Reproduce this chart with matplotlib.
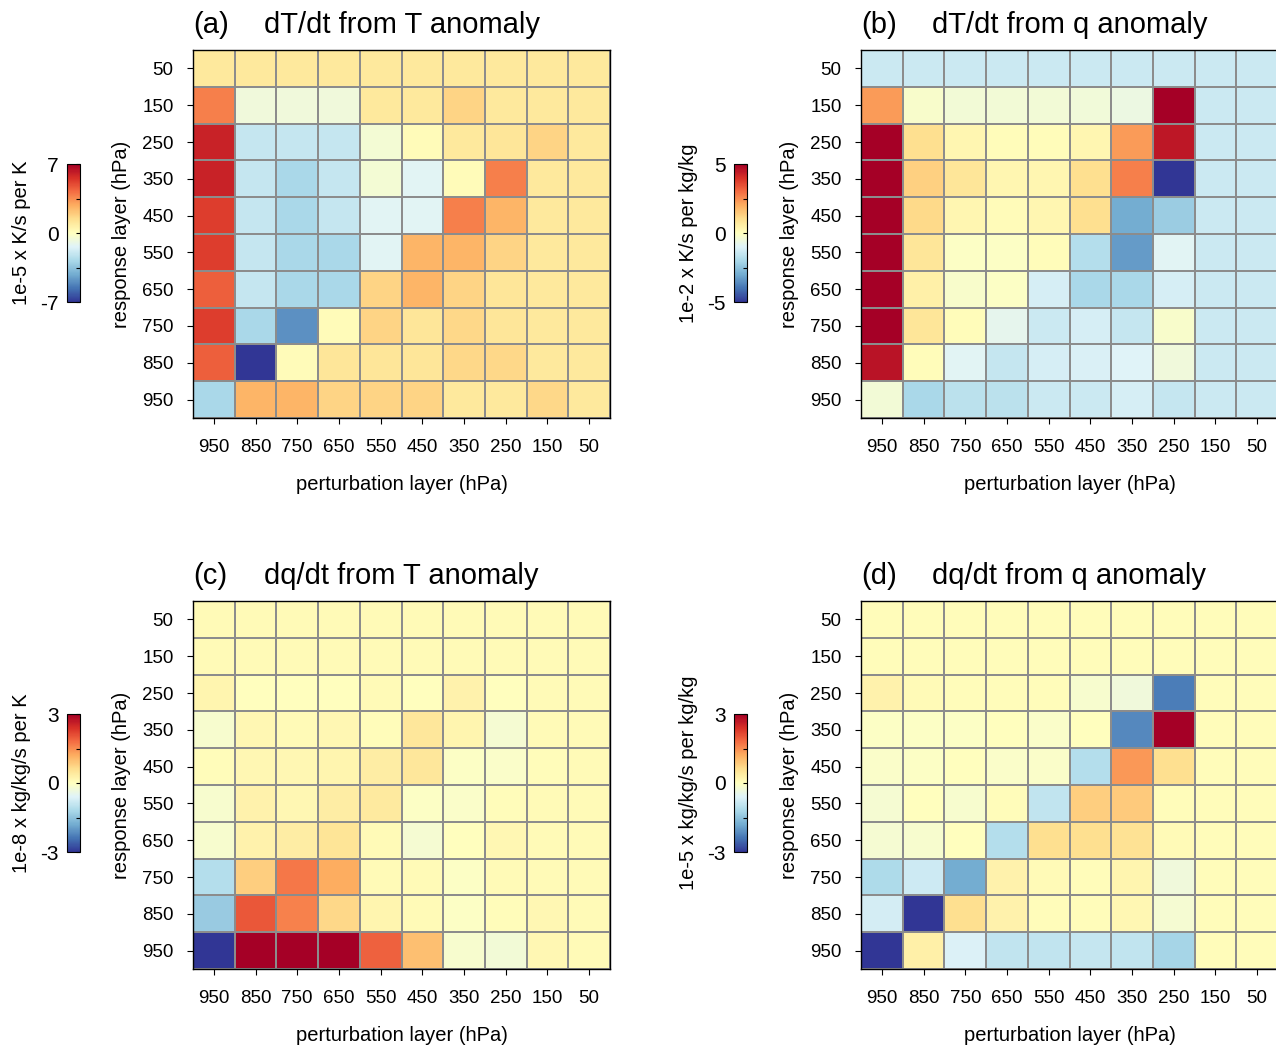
import matplotlib.pyplot as plt
import numpy as np

plt.rcParams['font.family'] = ['Liberation Sans', 'DejaVu Sans']

levels = [50, 150, 250, 350, 450, 550, 650, 750, 850, 950]
xlabels = ["950", "850", "750", "650", "550", "450", "350", "250", "150", "50"]

# rows: response layer 50 (top) .. 950 (bottom); cols: perturbation 950 .. 50
dT_from_T = [
    [1.0, 1.0, 1.0, 1.0, 1.0, 1.0, 1.0, 1.0, 1.0, 1.0],
    [3.8, -0.7, -0.7, -0.7, 1.0, 1.0, 1.7, 1.0, 1.0, 1.0],
    [6.0, -2.1, -2.1, -2.1, -0.5, 0.2, 1.0, 1.1, 1.7, 1.0],
    [6.0, -2.1, -2.8, -2.1, -0.5, -1.3, 0.2, 3.8, 1.0, 1.0],
    [5.3, -2.1, -2.8, -2.1, -1.3, -1.3, 3.8, 2.6, 1.0, 1.0],
    [5.3, -2.1, -2.8, -2.8, -1.3, 2.6, 2.6, 1.7, 1.0, 1.0],
    [4.5, -2.1, -2.8, -2.8, 1.7, 2.6, 1.7, 1.1, 1.0, 1.0],
    [5.3, -2.8, -4.9, 0.2, 1.7, 1.1, 1.6, 1.1, 1.0, 1.0],
    [4.5, -7.0, 0.2, 1.1, 1.1, 1.1, 1.6, 1.6, 1.0, 1.0],
    [-2.8, 2.6, 2.6, 1.7, 1.7, 1.7, 1.0, 1.0, 1.6, 1.0],
]

dT_from_q = [
    [-1.4, -1.4, -1.4, -1.4, -1.4, -1.4, -1.4, -1.4, -1.4, -1.4],
    [2.3, -0.2, -0.4, -0.4, -0.4, -0.45, -0.6, 5.0, -1.4, -1.4],
    [5.0, 1.0, 0.3, 0.1, 0.1, 0.3, 2.3, 4.5, -1.4, -1.4],
    [5.0, 1.3, 0.8, 0.3, 0.3, 1.0, 2.7, -5.0, -1.4, -1.4],
    [5.0, 1.1, 0.3, 0.15, 0.3, 1.0, -3.0, -2.3, -1.4, -1.4],
    [5.0, 0.8, -0.1, -0.1, 0.1, -1.8, -3.3, -0.9, -1.4, -1.4],
    [5.0, 0.5, -0.2, -0.1, -1.2, -2.0, -2.0, -1.2, -1.4, -1.4],
    [5.0, 0.8, 0.1, -0.8, -1.4, -1.2, -1.5, -0.2, -1.4, -1.4],
    [4.6, 0.1, -0.9, -1.5, -1.2, -1.1, -1.0, -0.5, -1.4, -1.4],
    [-0.4, -2.0, -1.7, -1.7, -1.4, -1.4, -1.2, -1.5, -1.4, -1.4],
]

dq_from_T = [
    [0.1, 0.1, 0.1, 0.1, 0.1, 0.1, 0.1, 0.1, 0.1, 0.1],
    [0.1, 0.1, 0.1, 0.1, 0.1, 0.1, 0.1, 0.1, 0.1, 0.1],
    [0.2, 0.0, 0.0, 0.0, 0.1, 0.0, 0.25, 0.0, 0.1, 0.1],
    [-0.15, 0.15, 0.1, 0.15, 0.05, 0.45, 0.2, -0.2, 0.1, 0.1],
    [0.05, 0.15, 0.15, 0.2, 0.35, 0.45, -0.05, -0.1, 0.05, 0.1],
    [-0.15, 0.25, 0.15, 0.35, 0.4, -0.05, -0.1, 0.05, 0.1, 0.1],
    [-0.15, 0.25, 0.35, 0.5, 0.1, -0.2, 0.0, 0.15, 0.1, 0.1],
    [-1.1, 0.8, 1.7, 1.2, 0.1, 0.1, -0.05, 0.1, 0.1, 0.1],
    [-1.4, 2.0, 1.6, 0.7, 0.2, 0.1, -0.05, 0.05, 0.15, 0.1],
    [-3.0, 3.0, 3.0, 3.0, 1.9, 1.0, -0.15, -0.25, 0.15, 0.1],
]

dq_from_q = [
    [0.05, 0.05, 0.05, 0.05, 0.05, 0.05, 0.05, 0.05, 0.05, 0.05],
    [0.05, 0.05, 0.05, 0.05, 0.05, 0.05, 0.05, 0.05, 0.05, 0.05],
    [0.25, 0.1, 0.05, 0.05, 0.05, -0.15, -0.3, -2.3, 0.05, 0.05],
    [-0.05, -0.05, -0.05, 0.0, -0.1, 0.0, -2.2, 3.0, 0.05, 0.05],
    [-0.1, -0.05, 0.0, -0.1, -0.1, -1.1, 1.4, 0.6, 0.05, 0.05],
    [-0.2, 0.0, -0.15, 0.05, -0.95, 0.8, 0.85, 0.05, 0.05, 0.05],
    [-0.2, -0.15, 0.0, -1.1, 0.6, 0.6, 0.55, 0.1, 0.05, 0.05],
    [-1.15, -0.8, -1.8, 0.25, 0.1, 0.05, 0.2, -0.3, 0.05, 0.05],
    [-0.75, -3.0, 0.6, 0.25, 0.05, 0.05, 0.15, -0.2, 0.05, 0.05],
    [-3.0, 0.3, -0.65, -0.95, -0.95, -0.9, -0.95, -1.25, 0.05, 0.05],
]

panels = [
    ("(a)", "dT/dt from T anomaly", dT_from_T, 7, "1e-5 x K/s per K"),
    ("(b)", "dT/dt from q anomaly", dT_from_q, 5, "1e-2 x K/s per kg/kg"),
    ("(c)", "dq/dt from T anomaly", dq_from_T, 3, "1e-8 x kg/kg/s per K"),
    ("(d)", "dq/dt from q anomaly", dq_from_q, 3, "1e-5 x kg/kg/s per kg/kg"),
]

W, H = 1276, 1049
fig = plt.figure(figsize=(W / 100, H / 100), dpi=100)

ax_pos = [(193, 50), (861, 50), (193, 601), (861, 601)]
cb_pos = [(67, 164), (734, 164), (67, 714), (734, 714)]
lab_x = [22, 689, 22, 689]
aw, ah = 417, 368

for i, (tag, title, data, vmax, cblabel) in enumerate(panels):
    x0, y0 = ax_pos[i]
    ax = fig.add_axes([x0 / W, 1 - (y0 + ah) / H, aw / W, ah / H])
    arr = np.array(data)
    mesh = ax.pcolormesh(np.arange(11), np.arange(11), arr, cmap='RdYlBu_r',
                         vmin=-vmax, vmax=vmax, edgecolors='#8c8c8c', linewidth=1.2)
    ax.set_xlim(0, 10)
    ax.set_ylim(10, 0)
    ax.set_xticks(np.arange(10) + 0.5)
    ax.set_xticklabels(xlabels)
    ax.set_yticks(np.arange(10) + 0.5)
    ax.set_yticklabels([str(l) for l in levels])
    ax.tick_params(axis='both', labelsize=13.5, length=4, direction='out')
    ax.tick_params(axis='x', pad=11)
    ax.tick_params(axis='y', pad=10)
    ax.set_xlabel("perturbation layer (hPa)", fontsize=14.5, labelpad=14)
    ax.set_ylabel("response layer (hPa)", fontsize=14.5, labelpad=8)
    ax.set_title(title, fontsize=21, pad=12)
    ax.set_title(tag, fontsize=21, pad=12, loc='left')
    for s in ax.spines.values():
        s.set_color('black')
        s.set_linewidth(1.0)

    cx, cy = cb_pos[i]
    cax = fig.add_axes([cx / W, 1 - (cy + 138) / H, 13 / W, 138 / H])
    cb = fig.colorbar(mesh, cax=cax)
    cb.set_ticks([-vmax, -vmax / 2, 0, vmax / 2, vmax])
    cb.set_ticklabels([str(-vmax), "", "0", "", str(vmax)])
    cax.tick_params(axis='y', left=False, right=True, labelleft=True, labelright=False,
                    direction='in', length=3, labelsize=15, pad=6)
    cb.outline.set_linewidth(0.8)
    fig.text(lab_x[i] / W, 1 - (cy + 69) / H, cblabel, rotation=90,
             ha='center', va='center', fontsize=14.5)

fig.savefig("out.png", dpi=100)
